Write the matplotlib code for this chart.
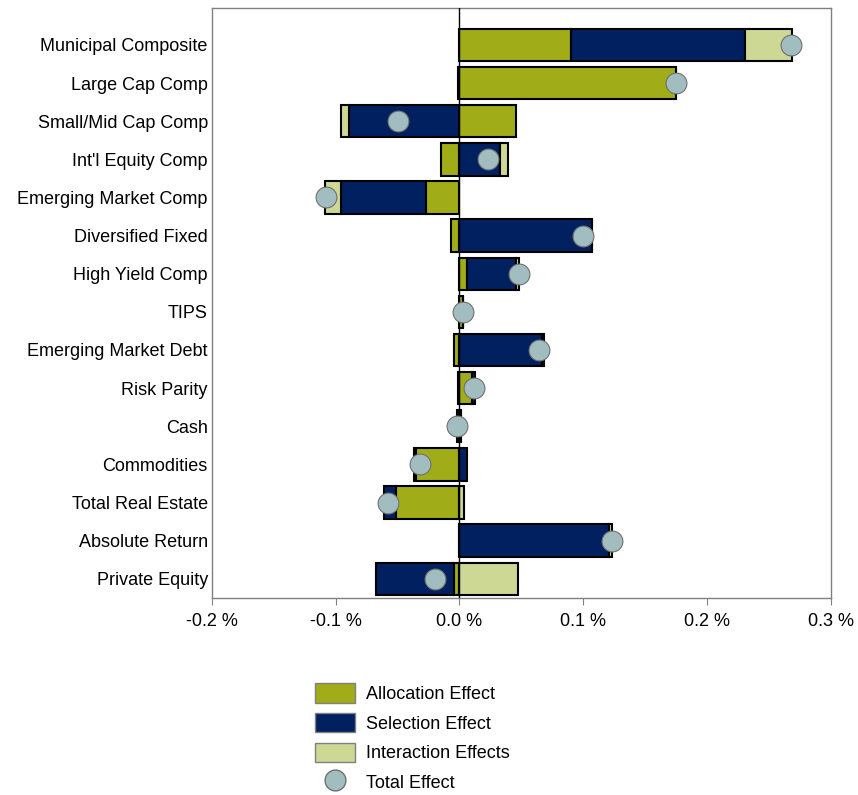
import numpy as np
import matplotlib
matplotlib.use("Agg")
import matplotlib.pyplot as plt
from matplotlib.patches import Patch
from matplotlib.lines import Line2D

plt.rcParams.update({
    "font.family": ["Liberation Sans", "DejaVu Sans"],
    "font.size": 13,
})

categories = ["Municipal Composite", "Large Cap Comp", "Small/Mid Cap Comp",
              "Int'l Equity Comp", "Emerging Market Comp", "Diversified Fixed",
              "High Yield Comp", "TIPS", "Emerging Market Debt", "Risk Parity",
              "Cash", "Commodities", "Total Real Estate", "Absolute Return",
              "Private Equity"]

allocation = [0.090, 0.175, 0.046, -0.015, -0.027, -0.007, 0.006, 0.003,
              -0.004, 0.010, -0.002, -0.035, -0.051, 0.000, -0.004]
selection = [0.141, -0.001, -0.089, 0.033, -0.069, 0.107, 0.040, 0.000,
             0.067, 0.003, 0.001, 0.006, -0.010, 0.121, -0.063]
interaction = [0.038, 0.000, -0.007, 0.006, -0.013, 0.000, 0.002, 0.000,
               0.001, -0.001, 0.000, -0.002, 0.004, 0.002, 0.047]
total = [0.268, 0.175, -0.050, 0.023, -0.108, 0.100, 0.048, 0.003,
         0.064, 0.012, -0.002, -0.032, -0.058, 0.123, -0.020]

c_alloc = "#A0AC18"
c_sel = "#00205F"
c_inter = "#CDD895"
c_total = "#A2BDC0"

fig = plt.figure(figsize=(8.58, 7.95), dpi=100)
ax = fig.add_axes([0.247, 0.248, 0.721, 0.742])

y = np.arange(len(categories))
pos = np.zeros(len(categories))
neg = np.zeros(len(categories))
for vals, col in [(allocation, c_alloc), (selection, c_sel), (interaction, c_inter)]:
    v = np.array(vals)
    left = np.where(v >= 0, pos, neg)
    ax.barh(y, v, left=left, height=0.85, color=col, edgecolor="black",
            linewidth=1.5, zorder=2)
    pos = pos + np.where(v > 0, v, 0)
    neg = neg + np.where(v < 0, v, 0)

ax.plot(total, y, "o", markersize=15, markerfacecolor=c_total,
        markeredgecolor="#707070", markeredgewidth=0.8, zorder=4)

ax.axvline(0, color="black", linewidth=1, zorder=3)

ax.set_xlim(-0.2, 0.3)
ax.set_ylim(14.5, -0.97)
ax.set_xticks([-0.2, -0.1, 0.0, 0.1, 0.2, 0.3])
ax.set_xticklabels(["-0.2 %", "-0.1 %", "0.0 %", "0.1 %", "0.2 %", "0.3 %"])
ax.set_yticks(y)
ax.set_yticklabels(categories)
ax.tick_params(axis="y", length=0, pad=3)
ax.tick_params(axis="x", length=5, color="#808080", pad=6)
for s in ax.spines.values():
    s.set_color("#808080")
    s.set_linewidth(1)

handles = [
    Patch(facecolor=c_alloc, edgecolor="#808080", label="Allocation Effect"),
    Patch(facecolor=c_sel, edgecolor="#808080", label="Selection Effect"),
    Patch(facecolor=c_inter, edgecolor="#808080", label="Interaction Effects"),
    Line2D([], [], marker="o", linestyle="none", markersize=15,
           markerfacecolor=c_total, markeredgecolor="#707070", label="Total Effect"),
]
fig.legend(handles=handles, loc="upper left", bbox_to_anchor=(0.359, 0.150),
           frameon=False, handlelength=2.2, handleheight=1.3, labelspacing=0.55,
           handletextpad=0.6, borderaxespad=0)

fig.savefig("out.png", dpi=100)
